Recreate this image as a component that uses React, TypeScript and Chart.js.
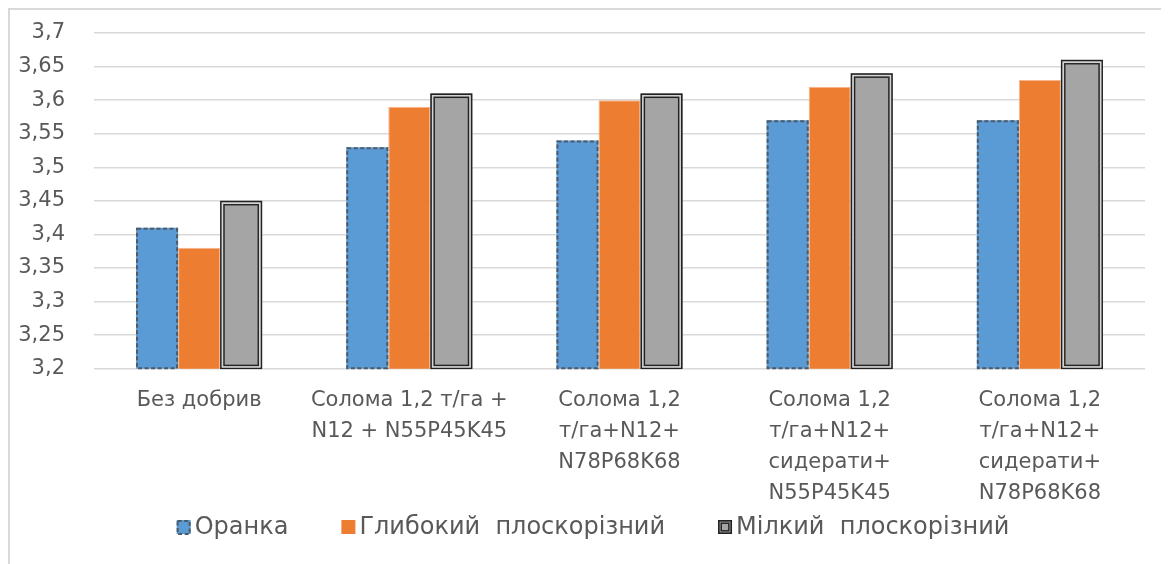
import React, { useEffect, useRef } from "react";
import { Chart, registerables } from "chart.js";

Chart.register(...registerables);

const categories: string[][] = [
  ["Без добрив"],
  ["Солома 1,2 т/га +", "N12 + N55P45K45"],
  ["Солома 1,2", "т/га+N12+", "N78P68K68"],
  ["Солома 1,2", "т/га+N12+", "сидерати+", "N55P45K45"],
  ["Солома 1,2", "т/га+N12+", "сидерати+", "N78P68K68"],
];

const seriesNames = ["Оранка", "Глибокий  плоскорізний", "Мілкий  плоскорізний"];
const oranka = [3.41, 3.53, 3.54, 3.57, 3.57];
const hlybokyi = [3.38, 3.59, 3.6, 3.62, 3.63];
const milkyi = [3.45, 3.61, 3.61, 3.64, 3.66];
const yTicks = [3.2, 3.25, 3.3, 3.35, 3.4, 3.45, 3.5, 3.55, 3.6, 3.65, 3.7];

const FONT = "'DejaVu Sans', sans-serif";
const TEXT = "#595959";
const COLORS = ["#5b9bd5", "#ed7d31", "#a5a5a5"];

function dashedRect(ctx: any, l: number, t: number, w: number, h: number) {
  ctx.save();
  ctx.setLineDash([4, 2.5]);
  ctx.strokeStyle = "#4e5a66";
  ctx.lineWidth = 2;
  ctx.strokeRect(l + 1, t + 1, w - 2, h - 1.5);
  ctx.restore();
}

function doubleRect(ctx: any, l: number, t: number, w: number, h: number) {
  ctx.save();
  ctx.lineWidth = 1.6;
  ctx.strokeStyle = "#222";
  ctx.strokeRect(l + 0.8, t + 0.8, w - 1.6, h - 1.2);
  ctx.strokeStyle = "#d4d4d4";
  ctx.strokeRect(l + 2.4, t + 2.4, w - 4.8, h - 4.2);
  ctx.strokeStyle = "#222";
  ctx.lineWidth = 1.4;
  ctx.strokeRect(l + 3.9, t + 3.9, w - 7.8, h - 7.2);
  ctx.restore();
}

const borderPlugin = {
  id: "customBorders",
  afterDatasetsDraw(chart: any) {
    const ctx = chart.ctx;
    const bottom = chart.chartArea.bottom;
    chart.getDatasetMeta(0).data.forEach((el: any) => {
      const p = el.getProps(["x", "y", "base", "width"], true);
      const b = Math.min(p.base, bottom);
      dashedRect(ctx, p.x - p.width / 2, p.y, p.width, b - p.y);
    });
    chart.getDatasetMeta(2).data.forEach((el: any) => {
      const p = el.getProps(["x", "y", "base", "width"], true);
      const b = Math.min(p.base, bottom);
      doubleRect(ctx, p.x - p.width / 2, p.y, p.width, b - p.y);
    });
  },
};

const legendPlugin = {
  id: "customLegend",
  afterDraw(chart: any) {
    const ctx = chart.ctx;
    ctx.save();
    ctx.font = `24px ${FONT}`;
    const box = 14;
    const boxGap = 4;
    const gap = 53;
    const widths = seriesNames.map((n) => ctx.measureText(n).width);
    const total = widths.reduce((a, w) => a + box + boxGap + w, 0) + gap * (seriesNames.length - 1);
    const cx = 583;
    const cy = 517;
    let x = cx - total / 2;
    ctx.textBaseline = "middle";
    ctx.textAlign = "left";
    seriesNames.forEach((n, i) => {
      const t = cy - box / 2;
      ctx.fillStyle = COLORS[i];
      ctx.fillRect(x, t, box, box);
      if (i === 0) dashedRect(ctx, x, t, box, box + 0.5);
      if (i === 2) {
        ctx.lineWidth = 1.6;
        ctx.strokeStyle = "#222";
        ctx.strokeRect(x + 0.8, t + 0.8, box - 1.6, box - 1.6);
        ctx.lineWidth = 1.4;
        ctx.strokeRect(x + 3.2, t + 3.2, box - 6.4, box - 6.4);
      }
      ctx.fillStyle = TEXT;
      ctx.fillText(n, x + box + boxGap, cy + 1);
      x += box + boxGap + widths[i] + gap;
    });
    ctx.restore();
  },
};

export default function App() {
  const ref = useRef<HTMLCanvasElement | null>(null);

  useEffect(() => {
    document.documentElement.style.overflow = "hidden";
    document.body.style.overflow = "hidden";
    const canvas = ref.current;
    if (!canvas) return;
    const chart = new Chart(canvas, {
      type: "bar",
      data: {
        labels: categories as any,
        datasets: [
          {
            label: seriesNames[0],
            data: oranka,
            backgroundColor: COLORS[0],
            borderWidth: 0,
            categoryPercentage: 0.6,
            barPercentage: 1,
          },
          {
            label: seriesNames[1],
            data: hlybokyi,
            backgroundColor: COLORS[1],
            borderColor: "#f6b78e",
            borderWidth: 1,
            categoryPercentage: 0.6,
            barPercentage: 1,
          },
          {
            label: seriesNames[2],
            data: milkyi,
            backgroundColor: COLORS[2],
            borderWidth: 0,
            categoryPercentage: 0.6,
            barPercentage: 1,
          },
        ],
      },
      options: {
        animation: false,
        responsive: false,
        maintainAspectRatio: false,
        layout: { padding: { top: 23, right: 24, left: 0, bottom: 39 } },
        plugins: {
          tooltip: { enabled: false },
          legend: { display: false },
        },
        scales: {
          x: {
            grid: { display: false, drawTicks: false },
            border: { display: false },
            ticks: {
              font: { family: FONT, size: 21, lineHeight: 1.48 },
              color: TEXT,
              padding: 16,
              maxRotation: 0,
              autoSkip: false,
            },
          },
          y: {
            min: 3.2,
            max: 3.7,
            grid: { color: "#d9d9d9", lineWidth: 1.5, drawTicks: false },
            border: { display: false },
            afterBuildTicks(scale: any) {
              scale.ticks = yTicks.map((v) => ({ value: v }));
            },
            ticks: {
              font: { family: FONT, size: 21 },
              color: TEXT,
              padding: 29,
              callback: (v: any) => String(Number(v).toFixed(2).replace(/0$/, "")).replace(".", ","),
            },
            afterFit(scale: any) {
              scale.width = 84;
              scale.paddingTop = 0;
              scale.paddingBottom = 0;
            },
          },
        },
      },
      plugins: [borderPlugin, legendPlugin],
    });
    return () => chart.destroy();
  }, []);

  return (
    <div
      style={{
        width: 1159,
        height: 554,
        borderTop: "2px solid #d9d9d9",
        borderLeft: "2px solid #d9d9d9",
        overflow: "hidden",
      }}
    >
      <canvas ref={ref} width={1159} height={554} style={{ display: "block" }} />
    </div>
  );
}
